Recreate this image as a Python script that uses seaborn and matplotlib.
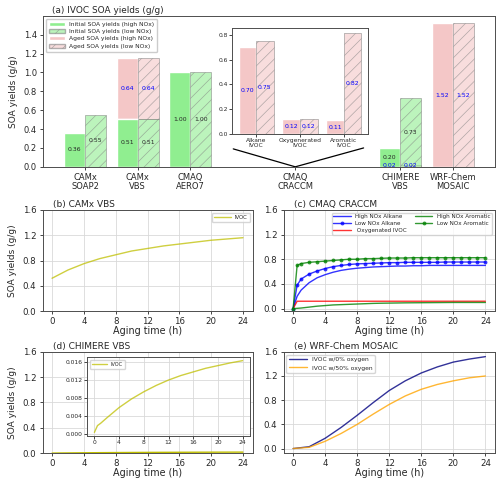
import numpy as np
import pandas as pd
import seaborn as sns
import matplotlib.pyplot as plt
from matplotlib.patches import Patch

# ---- data ----
models = ["CAMx\nSOAP2", "CAMx\nVBS", "CMAQ\nAERO7", "CMAQ\nCRACCM", "CHIMERE\nVBS", "WRF-Chem\nMOSAIC"]

init_models = ["CAMx\nSOAP2", "CAMx\nVBS", "CMAQ\nAERO7", "CHIMERE\nVBS"]
init_high = [0.36, 0.51, 1.00, 0.20]
init_low = [0.55, 0.51, 1.00, 0.73]

aged_models = ["CAMx\nVBS", "CHIMERE\nVBS", "WRF-Chem\nMOSAIC"]
aged_base = [0.51, 0.0, 0.0]
aged_high = [0.64, 0.02, 1.52]
aged_low = [0.64, 0.02, 1.52]

craccm_species = ["Alkane\nIVOC", "Oxygenerated\nIVOC", "Aromatic\nIVOC"]
craccm_high = [0.70, 0.12, 0.11]
craccm_low = [0.75, 0.12, 0.82]

# (b) CAMx VBS
t_b = [0, 2, 4, 6, 8, 10, 12, 14, 16, 18, 20, 22, 24]
camx_ivoc = [0.52, 0.65, 0.75, 0.83, 0.89, 0.95, 0.99, 1.03, 1.06, 1.09, 1.12, 1.14, 1.16]

# (c) CMAQ CRACCM
t_c = [0, 0.5] + list(range(1, 25))
high_alk = [0, 0.20, 0.30, 0.42, 0.50, 0.55, 0.59, 0.62, 0.64, 0.655, 0.665, 0.675, 0.68,
            0.685, 0.69, 0.69, 0.695, 0.695, 0.70, 0.70, 0.70, 0.70, 0.70, 0.70, 0.70, 0.70]
low_alk = [0, 0.38, 0.48, 0.56, 0.61, 0.65, 0.68, 0.70, 0.715, 0.725, 0.73, 0.735, 0.74,
           0.745, 0.745, 0.75, 0.75, 0.75, 0.75, 0.75, 0.755, 0.755, 0.755, 0.755, 0.755, 0.755]
oxy_ivoc = [0, 0.12, 0.12, 0.12, 0.12, 0.12, 0.12, 0.12, 0.12, 0.12, 0.12, 0.12, 0.12,
            0.12, 0.12, 0.12, 0.12, 0.12, 0.12, 0.12, 0.12, 0.12, 0.12, 0.12, 0.12, 0.12]
high_aro = [0, 0.005, 0.01, 0.025, 0.04, 0.05, 0.06, 0.065, 0.07, 0.075, 0.08, 0.085, 0.088,
            0.09, 0.092, 0.094, 0.095, 0.096, 0.097, 0.098, 0.099, 0.10, 0.10, 0.10, 0.10, 0.10]
low_aro = [0, 0.70, 0.73, 0.75, 0.76, 0.77, 0.78, 0.79, 0.80, 0.80, 0.81, 0.81, 0.815,
           0.82, 0.82, 0.82, 0.825, 0.825, 0.825, 0.825, 0.825, 0.825, 0.825, 0.825, 0.825, 0.825]

# (d) CHIMERE VBS
t_d = [0, 0.5, 1, 2, 4, 6, 8, 10, 12, 14, 16, 18, 20, 22, 24]
chimere_ivoc = [0.0003, 0.0018, 0.0023, 0.0035, 0.0058, 0.0077, 0.0093, 0.0107, 0.0119,
                0.0129, 0.0137, 0.0145, 0.0151, 0.0157, 0.0162]

# (e) WRF-Chem MOSAIC
t_e = [0, 2, 4, 6, 8, 10, 12, 14, 16, 18, 20, 22, 24]
wrf_0ox = [0, 0.03, 0.17, 0.35, 0.55, 0.76, 0.96, 1.12, 1.25, 1.35, 1.43, 1.48, 1.52]
wrf_50ox = [0, 0.02, 0.12, 0.25, 0.40, 0.57, 0.73, 0.87, 0.98, 1.06, 1.12, 1.17, 1.20]

# ---- style ----
sns.set_style("ticks", {"axes.grid": True, "grid.color": ".85", "axes.edgecolor": ".3"})
plt.rcParams['font.family'] = ['DejaVu Sans']
plt.rcParams.update({"axes.linewidth": 0.7, "grid.linewidth": 0.6,
                     "xtick.major.size": 2.5, "ytick.major.size": 2.5,
                     "xtick.major.width": 0.6, "ytick.major.width": 0.6,
                     "xtick.major.pad": 2, "ytick.major.pad": 2,
                     "hatch.linewidth": 0.5, "lines.linewidth": 1.0,
                     "legend.edgecolor": "0.8"})

fig = plt.figure(figsize=(5, 4.78), dpi=100)

green = "lightgreen"
pink = "#f4c7c7"
bw = 0.4
tick_fs = 6.0
lab_fs = 6.5
val_fs = 4.4

# ---- (a) bar panel ----
ax = fig.add_axes([0.086, 0.651, 0.904, 0.316])
xpos = dict(zip(models, [0, 1, 2, 4, 6, 7]))

xa = np.array([xpos[m] for m in aged_models])
ax.bar(xa - bw / 2, aged_high, bw, bottom=aged_base, color=pink)
ax.bar(xa + bw / 2, aged_low, bw, bottom=aged_base, color=pink, alpha=0.6,
       hatch="///", edgecolor="gray", linewidth=0.6)
xi = np.array([xpos[m] for m in init_models])
ax.bar(xi - bw / 2, init_high, bw, color=green)
ax.bar(xi + bw / 2, init_low, bw, color=green, alpha=0.6,
       hatch="///", edgecolor="gray", linewidth=0.6)

for x, h in zip(xi, init_high):
    ax.text(x - bw / 2, h / 2, f"{h:.2f}", ha="center", va="center", fontsize=val_fs)
for x, h in zip(xi, init_low):
    ax.text(x + bw / 2, h / 2, f"{h:.2f}", ha="center", va="center", fontsize=val_fs)
for x, b, h in zip(xa, aged_base, aged_high):
    ax.text(x - bw / 2, b + h / 2, f"{h:.2f}", ha="center", va="center", fontsize=val_fs, color="blue")
for x, b, h in zip(xa, aged_base, aged_low):
    ax.text(x + bw / 2, b + h / 2, f"{h:.2f}", ha="center", va="center", fontsize=val_fs, color="blue")

# lines pointing from the inset to the CRACCM tick
ax.plot([2.82, xpos["CMAQ\nCRACCM"], 5.3], [0.19, 0.0, 0.2], color="black", lw=0.9)

ax.set_xlim(-0.8, 7.8)
ax.set_ylim(0, 1.6)
ax.set_yticks(np.arange(0, 1.41, 0.2))
ax.set_xticks(list(xpos.values()))
ax.set_xticklabels(models, fontsize=tick_fs, linespacing=1.0)
ax.tick_params(axis="y", labelsize=tick_fs)
ax.grid(False)
ax.set_ylabel("SOA yields (g/g)", fontsize=lab_fs)
ax.text(0.02, 1.02, "(a) IVOC SOA yields (g/g)", transform=ax.transAxes, fontsize=6.4)
handles = [Patch(facecolor=green, label="Initial SOA yields (high NOx)"),
           Patch(facecolor=green, alpha=0.6, hatch="///", edgecolor="gray", label="Initial SOA yields (low NOx)"),
           Patch(facecolor=pink, label="Aged SOA yields (high NOx)"),
           Patch(facecolor=pink, alpha=0.6, hatch="///", edgecolor="gray", label="Aged SOA yields (low NOx)")]
ax.legend(handles=handles, loc="upper left", fontsize=4.3, handlelength=2.6,
          borderpad=0.5, labelspacing=0.35, framealpha=1)

# inset for CRACCM
axi = fig.add_axes([0.464, 0.720, 0.272, 0.222])
xs = np.arange(len(craccm_species))
axi.bar(xs - bw / 2, craccm_high, bw, color=pink)
axi.bar(xs + bw / 2, craccm_low, bw, color=pink, alpha=0.6, hatch="///",
        edgecolor="gray", linewidth=0.6)
for x, h in zip(xs, craccm_high):
    axi.text(x - bw / 2, h / 2, f"{h:.2f}", ha="center", va="center", fontsize=val_fs, color="blue")
for x, h in zip(xs, craccm_low):
    axi.text(x + bw / 2, h / 2, f"{h:.2f}", ha="center", va="center", fontsize=val_fs, color="blue")
axi.set_xlim(-0.55, 2.55)
axi.set_ylim(0, 0.86)
axi.set_yticks(np.arange(0, 0.81, 0.2))
axi.set_xticks(xs)
axi.set_xticklabels(craccm_species, fontsize=4.3, linespacing=1.0)
axi.tick_params(axis="y", labelsize=4.3, length=2, pad=1)
axi.tick_params(axis="x", length=2, pad=1)
axi.grid(False)

# ---- line panels ----
def style_line_ax(ax, title, ylabel=True):
    ax.set_xlim(-1.2, 25.2)
    ax.set_xticks(range(0, 25, 4))
    ax.set_yticks(np.arange(0, 1.61, 0.4))
    ax.tick_params(labelsize=6.2)
    ax.set_xlabel("Aging time (h)", fontsize=6.9, labelpad=0)
    ax.set_ylabel("SOA yields (g/g)" if ylabel else "", fontsize=lab_fs)
    ax.text(0.05, 1.03, title, transform=ax.transAxes, fontsize=6.5)

# (b)
axb = fig.add_axes([0.085, 0.349, 0.42, 0.212])
sns.lineplot(x=t_b, y=camx_ivoc, ax=axb, color="y", alpha=0.75, label="IVOC")
axb.set_ylim(0, 1.6)
style_line_ax(axb, "(b) CAMx VBS")
axb.legend(loc="upper right", fontsize=3.9, handlelength=3)

# (c)
axc = fig.add_axes([0.567, 0.349, 0.423, 0.212])
sns.lineplot(x=t_c, y=high_alk, ax=axc, color="blue", alpha=0.8, label="High NOx Alkane")
sns.lineplot(x=t_c, y=low_alk, ax=axc, color="blue", alpha=0.8, marker="o", markersize=2.8,
             markeredgewidth=0, label="Low NOx Alkane")
sns.lineplot(x=t_c, y=oxy_ivoc, ax=axc, color="red", alpha=0.8, label=" Oxygenated IVOC")
sns.lineplot(x=t_c, y=high_aro, ax=axc, color="green", alpha=0.8, label="High NOx Aromatic")
sns.lineplot(x=t_c, y=low_aro, ax=axc, color="green", alpha=0.8, marker="o", markersize=2.8,
             markeredgewidth=0, label="Low NOx Aromatic")
axc.set_ylim(-0.041, 1.6)
style_line_ax(axc, "(c) CMAQ CRACCM", ylabel=False)
axc.legend(loc="upper right", ncol=2, fontsize=4.1, columnspacing=1.5,
           handlelength=3.0, labelspacing=0.3, borderpad=0.3)

# (d)
axd = fig.add_axes([0.085, 0.052, 0.42, 0.212])
sns.lineplot(x=t_d, y=chimere_ivoc, ax=axd, color="y", legend=False)
axd.set_ylim(0, 1.6)
style_line_ax(axd, "(d) CHIMERE VBS")
axdi = fig.add_axes([0.174, 0.088, 0.326, 0.165])
sns.lineplot(x=t_d, y=chimere_ivoc, ax=axdi, color="y", alpha=0.75, label="IVOC")
axdi.set_xticks(range(0, 25, 4))
axdi.set_yticks(np.arange(0, 0.0161, 0.004))
axdi.yaxis.set_major_formatter(plt.FormatStrFormatter("%.3f"))
axdi.tick_params(labelsize=4.3, length=2, pad=1)
axdi.legend(loc="upper left", fontsize=3.6, handlelength=3)

# (e)
axe = fig.add_axes([0.567, 0.052, 0.423, 0.212])
sns.lineplot(x=t_e, y=wrf_0ox, ax=axe, color="navy", alpha=0.8, label="IVOC w/0% oxygen")
sns.lineplot(x=t_e, y=wrf_50ox, ax=axe, color="orange", alpha=0.8, label="IVOC w/50% oxygen")
axe.set_ylim(-0.076, 1.6)
style_line_ax(axe, "(e) WRF-Chem MOSAIC", ylabel=False)
axe.legend(loc="upper left", fontsize=4.3, handlelength=3)

fig.savefig("out.png", dpi=100)
